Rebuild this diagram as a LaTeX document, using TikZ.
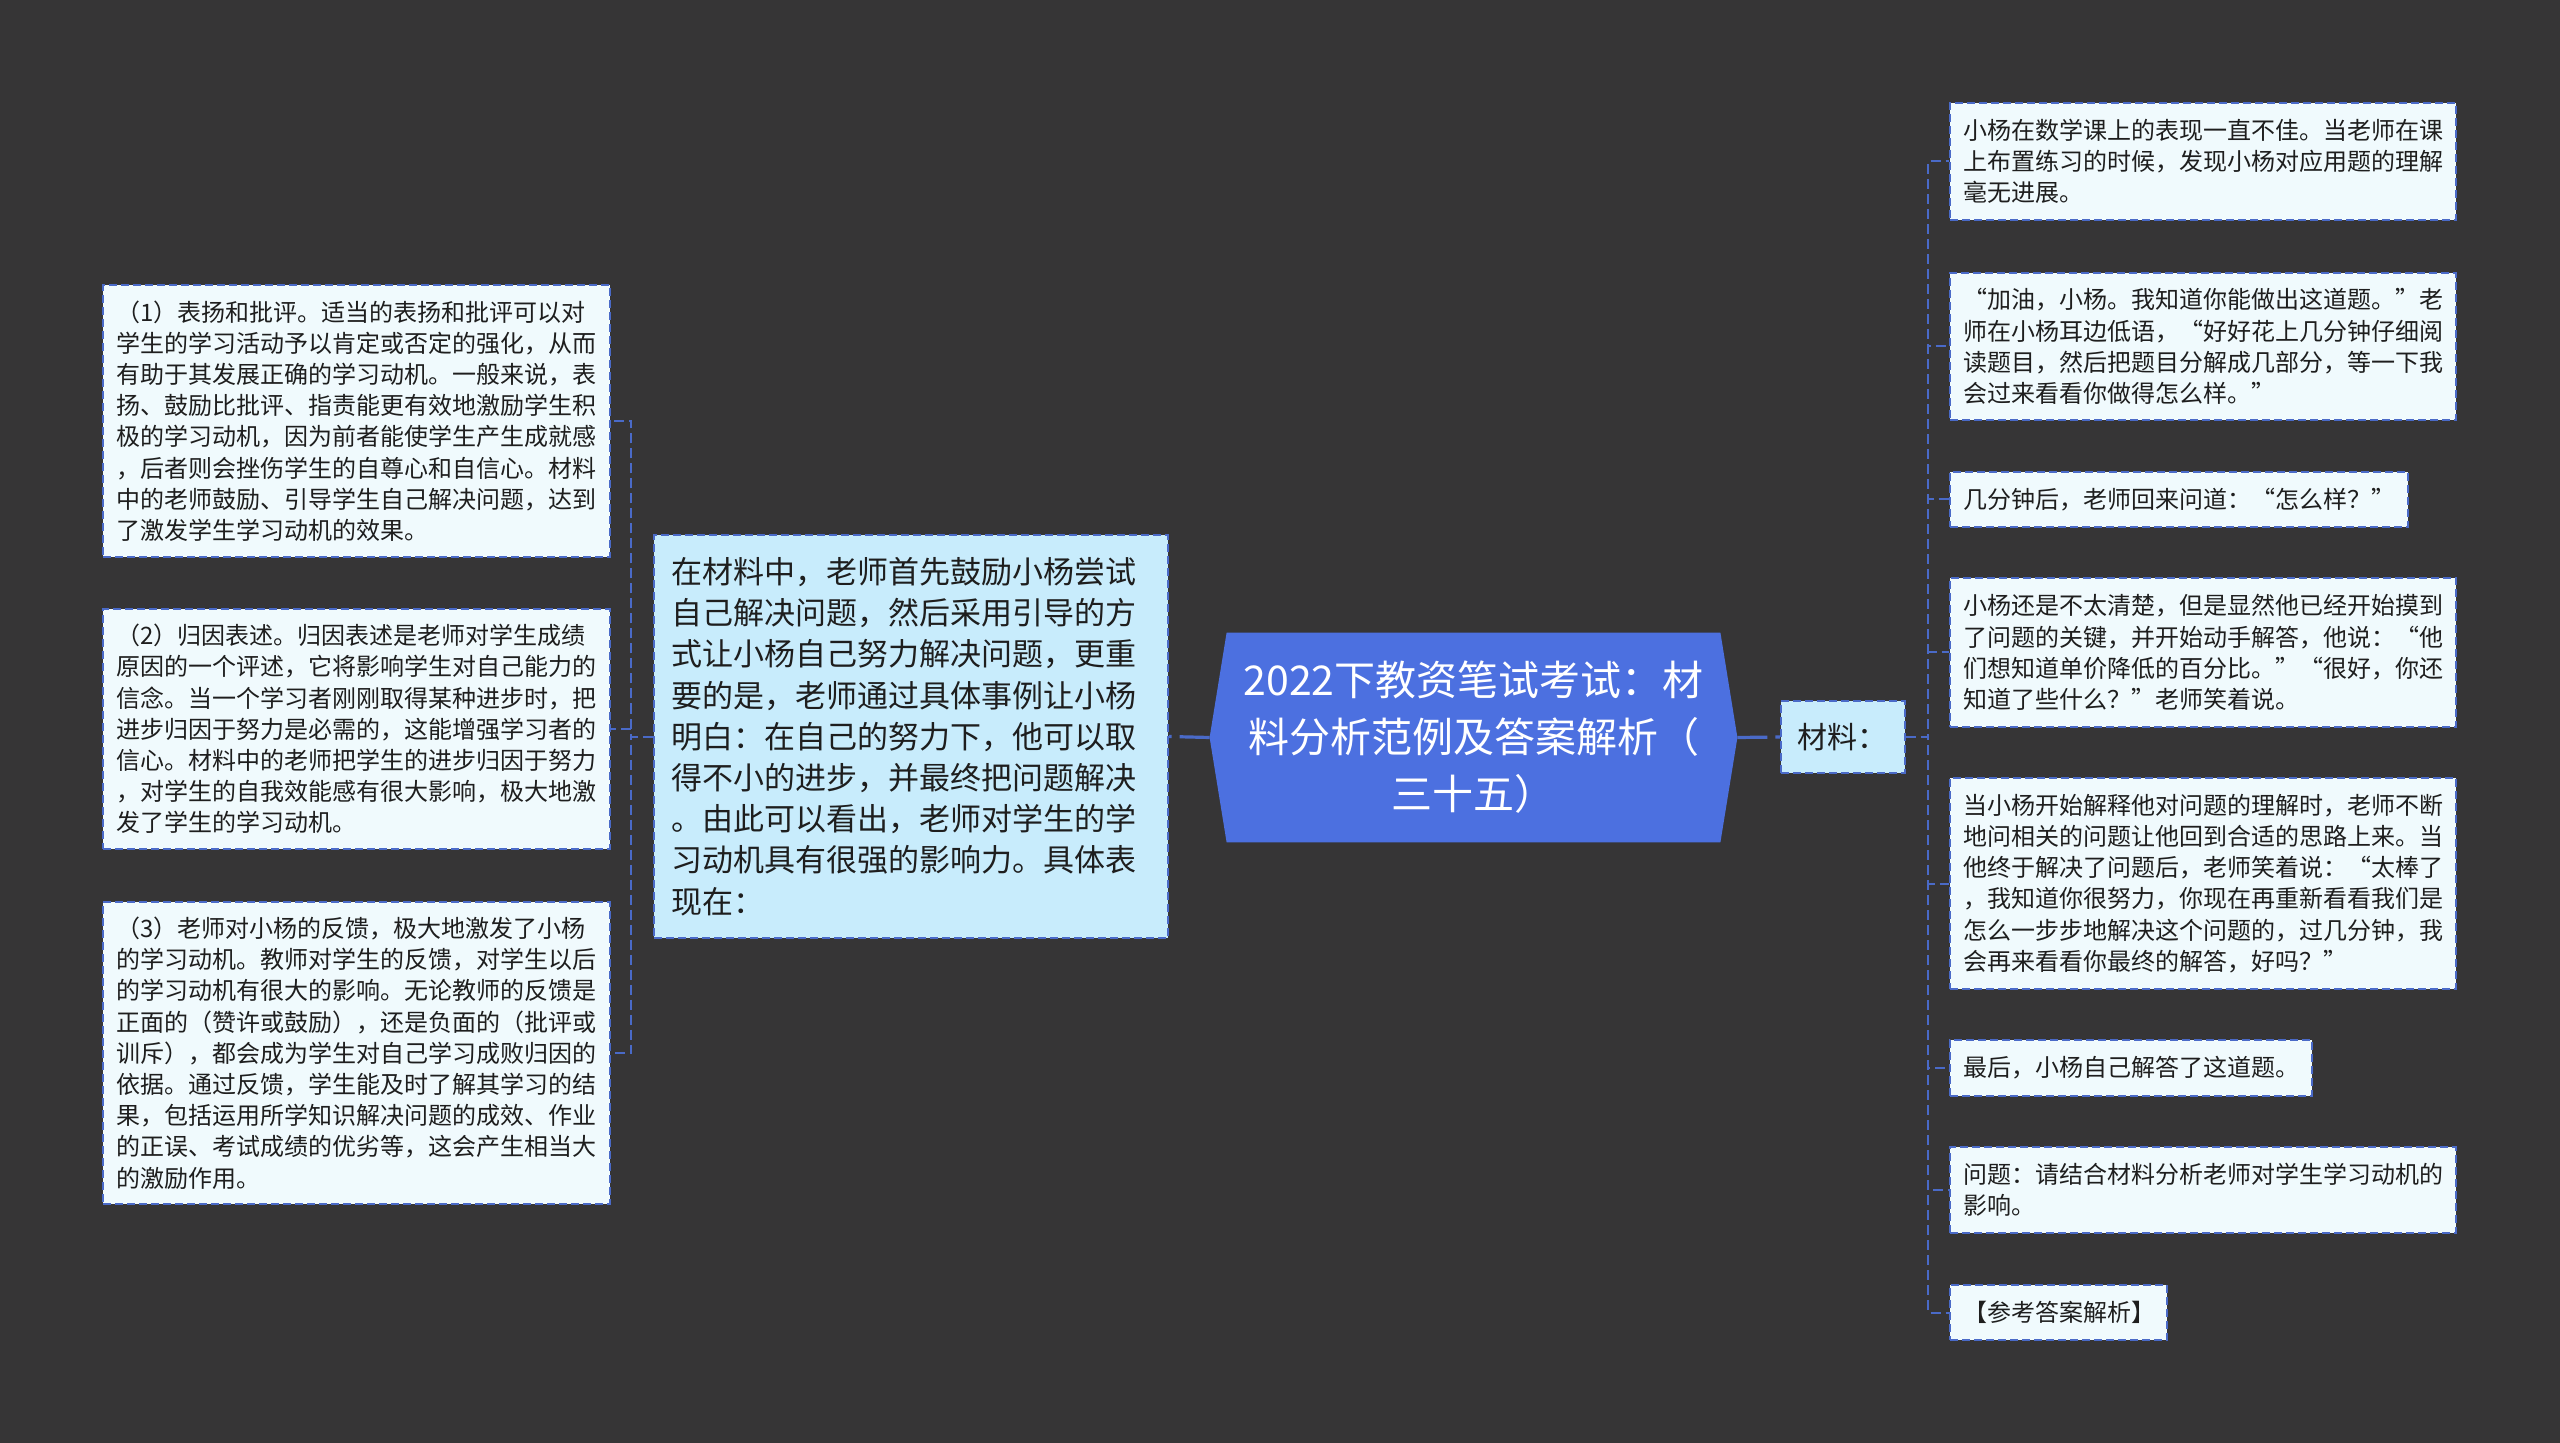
\documentclass[tikz,border=0pt]{standalone}
\usepackage{fontspec}
\setmainfont{Noto Sans CJK SC}
\usetikzlibrary{backgrounds}
\definecolor{bgc}{RGB}{54,53,54}
\definecolor{cblue}{RGB}{76,112,224}
\definecolor{eblue}{RGB}{74,106,200}
\definecolor{midfill}{RGB}{200,236,252}
\definecolor{leaffill}{RGB}{240,250,253}
\definecolor{txt}{RGB}{30,30,30}
\tikzset{
  leafbox/.style={draw=eblue, line width=1pt, dash pattern=on 4pt off 2pt, fill=leaffill, text=txt,
    align=left, inner xsep=6.5pt, inner ysep=0pt, font=\fontsize{12pt}{15.6pt}\selectfont},
  midbox/.style={draw=eblue, line width=1pt, dash pattern=on 4pt off 2pt, fill=midfill, text=txt,
    align=left, inner ysep=0pt},
  mainline/.style={draw=eblue, line width=1.6pt, dash pattern=on 15pt off 4pt},
  leafline/.style={draw=eblue, line width=1pt, dash pattern=on 5pt off 2.5pt},
}
\begin{document}
\begin{tikzpicture}[x=0.5pt,y=-0.5pt]
% central node
\node[font=\fontsize{20.5pt}{28.5pt}\selectfont, text=white, align=center,
  minimum width=263.5pt, minimum height=104.5pt, inner sep=0pt] (c) at (1473.5,737.5)
  {2022下教资笔试考试：材\\料分析范例及答案解析（\\三十五）};
% middle box
\node[midbox, text width=240pt, inner xsep=8.5pt, minimum height=201.5pt,
  font=\fontsize{15.5pt}{20.6pt}\selectfont] (m) at (911,736.5)
  {在材料中，老师首先鼓励小杨尝试\\自己解决问题，然后采用引导的方\\式让小杨自己努力解决问题，更重\\要的是，老师通过具体事例让小杨\\明白：在自己的努力下，他可以取\\得不小的进步，并最终把问题解决\\。由此可以看出，老师对学生的学\\习动机具有很强的影响力。具体表\\现在：};
% material box
\node[midbox, text width=46pt, inner xsep=8pt, minimum height=36pt,
  font=\fontsize{15pt}{18pt}\selectfont] (mat) at (1843,737) {材料：};
% left leaves
\node[leafbox, text width=240.5pt, minimum height=136pt] (l1) at (356.5,421)
  {（1）表扬和批评。适当的表扬和批评可以对\\学生的学习活动予以肯定或否定的强化，从而\\有助于其发展正确的学习动机。一般来说，表\\扬、鼓励比批评、指责能更有效地激励学生积\\极的学习动机，因为前者能使学生产生成就感\\，后者则会挫伤学生的自尊心和自信心。材料\\中的老师鼓励、引导学生自己解决问题，达到\\了激发学生学习动机的效果。};
\node[leafbox, text width=240.5pt, minimum height=120pt] (l2) at (356.5,729)
  {（2）归因表述。归因表述是老师对学生成绩\\原因的一个评述，它将影响学生对自己能力的\\信念。当一个学习者刚刚取得某种进步时，把\\进步归因于努力是必需的，这能增强学习者的\\信心。材料中的老师把学生的进步归因于努力\\，对学生的自我效能感有很大影响，极大地激\\发了学生的学习动机。};
\node[leafbox, text width=240.5pt, minimum height=151pt] (l3) at (356.5,1053)
  {（3）老师对小杨的反馈，极大地激发了小杨\\的学习动机。教师对学生的反馈，对学生以后\\的学习动机有很大的影响。无论教师的反馈是\\正面的（赞许或鼓励），还是负面的（批评或\\训斥），都会成为学生对自己学习成败归因的\\依据。通过反馈，学生能及时了解其学习的结\\果，包括运用所学知识解决问题的成效、作业\\的正误、考试成绩的优劣等，这会产生相当大\\的激励作用。};
% right leaves
\node[leafbox, text width=240pt, minimum height=58.5pt] (r1) at (2203,161.5)
  {小杨在数学课上的表现一直不佳。当老师在课\\上布置练习的时候，发现小杨对应用题的理解\\毫无进展。};
\node[leafbox, text width=240pt, minimum height=73.5pt] (r2) at (2203,346.5)
  {“加油，小杨。我知道你能做出这道题。”老\\师在小杨耳边低语，“好好花上几分钟仔细阅\\读题目，然后把题目分解成几部分，等一下我\\会过来看看你做得怎么样。”};
\node[leafbox, text width=216pt, minimum height=27.5pt] (r3) at (2179,499.5)
  {几分钟后，老师回来问道：“怎么样？”};
\node[leafbox, text width=240pt, minimum height=74.5pt] (r4) at (2203,652.5)
  {小杨还是不太清楚，但是显然他已经开始摸到\\了问题的关键，并开始动手解答，他说：“他\\们想知道单价降低的百分比。”“很好，你还\\知道了些什么？”老师笑着说。};
\node[leafbox, text width=240pt, minimum height=105.5pt] (r5) at (2203,883.5)
  {当小杨开始解释他对问题的理解时，老师不断\\地问相关的问题让他回到合适的思路上来。当\\他终于解决了问题后，老师笑着说：“太棒了\\，我知道你很努力，你现在再重新看看我们是\\怎么一步步地解决这个问题的，过几分钟，我\\会再来看看你最终的解答，好吗？”};
\node[leafbox, text width=168pt, minimum height=28pt] (r6) at (2131,1068)
  {最后，小杨自己解答了这道题。};
\node[leafbox, text width=240pt, minimum height=43pt] (r7) at (2203,1190)
  {问题：请结合材料分析老师对学生学习动机的\\影响。};
\node[leafbox, text width=95.5pt, minimum height=27.5pt] (r8) at (2058.5,1312.5)
  {【参考答案解析】};
% background and central shape
\begin{scope}[on background layer]
\fill[bgc] (0,0) rectangle (2560,1443);
\fill[cblue] (c.west) -- ([xshift=8.5pt]c.north west) -- ([xshift=-8.5pt]c.north east)
  -- (c.east) -- ([xshift=-8.5pt]c.south east) -- ([xshift=8.5pt]c.south west) -- cycle;
\end{scope}
% connectors
\draw[mainline] (c.west) -- (m.east);
\draw[mainline] (c.east) -- (mat.west);
\foreach \n in {l1,l2,l3}{
  \draw[leafline] (m.west) -- ++(-22,0) |- (\n.east);
}
\foreach \n in {r1,r2,r3,r4,r5,r6,r7,r8}{
  \draw[leafline] (mat.east) -- ++(22,0) |- (\n.west);
}
\end{tikzpicture}
\end{document}
